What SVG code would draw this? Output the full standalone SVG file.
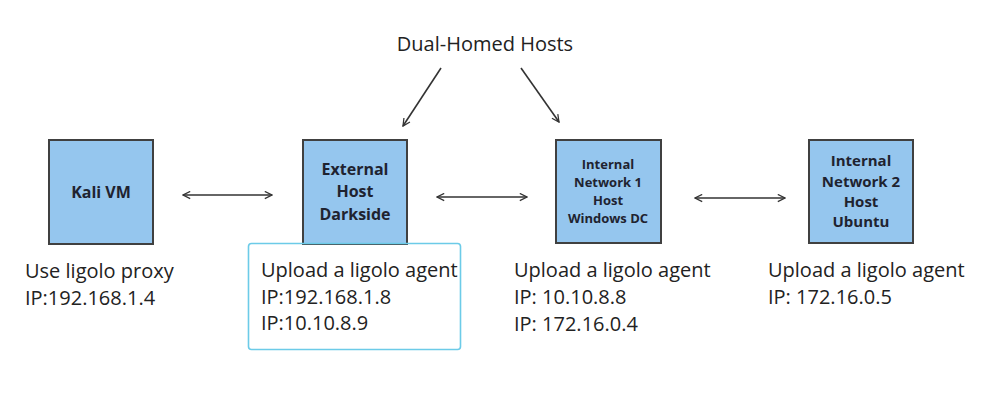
<svg xmlns="http://www.w3.org/2000/svg" width="1003" height="419" viewBox="0 0 1003 419">
<style>
.box{fill:#95c6ee;stroke:#404040;stroke-width:2}
.nt{font-family:"Open Sans","Noto Sans",sans-serif;font-weight:bold;fill:#1f2330;text-anchor:middle}
.lb{font-family:"Open Sans","Noto Sans",sans-serif;font-size:20px;fill:#222}
.cn{stroke:#333;stroke-width:1.6;fill:none}
</style>
<defs>
<marker id="ah" viewBox="0 0 10 10" refX="9" refY="5" markerWidth="9" markerHeight="9" orient="auto-start-reverse" markerUnits="userSpaceOnUse">
<path d="M1,1 L9,5 L1,9" fill="none" stroke="#333" stroke-width="1.4"/>
</marker>
</defs>
<rect width="1003" height="419" fill="#fff"/>
<text class="lb" x="485" y="51" text-anchor="middle">Dual-Homed Hosts</text>
<g id="connectors">
<line class="cn" x1="183" y1="195" x2="272" y2="195" marker-start="url(#ah)" marker-end="url(#ah)"/>
<line class="cn" x1="437" y1="197" x2="527" y2="197" marker-start="url(#ah)" marker-end="url(#ah)"/>
<line class="cn" x1="695" y1="198" x2="785" y2="198" marker-start="url(#ah)" marker-end="url(#ah)"/>
<line class="cn" x1="441" y1="68" x2="403" y2="126" marker-end="url(#ah)"/>
<line class="cn" x1="521" y1="68" x2="559" y2="122" marker-end="url(#ah)"/>
</g>
<g id="kali">
<rect class="box" x="49" y="140" width="104" height="104"/>
<text class="nt" x="101" y="198" font-size="16">Kali VM</text>
<text class="lb" x="25" y="278">Use ligolo proxy</text>
<text class="lb" x="25" y="305">IP:192.168.1.4</text>
</g>
<g id="external">
<rect class="box" x="303" y="140" width="104" height="104"/>
<text class="nt" x="355" y="175" font-size="16">External</text>
<text class="nt" x="355" y="197" font-size="16">Host</text>
<text class="nt" x="355" y="220" font-size="16">Darkside</text>
<rect x="248.5" y="243.5" width="212" height="106" rx="3" fill="none" stroke="#6ccbe8" stroke-width="1.6"/>
<text class="lb" x="261" y="277">Upload a ligolo agent</text>
<text class="lb" x="261" y="304">IP:192.168.1.8</text>
<text class="lb" x="261" y="330">IP:10.10.8.9</text>
</g>
<g id="internal1">
<rect class="box" x="556" y="140" width="105" height="103"/>
<text class="nt" x="608" y="169" font-size="13">Internal</text>
<text class="nt" x="608" y="187" font-size="13">Network 1</text>
<text class="nt" x="608" y="205" font-size="13">Host</text>
<text class="nt" x="608" y="223" font-size="13">Windows DC</text>
<text class="lb" x="514" y="277">Upload a ligolo agent</text>
<text class="lb" x="514" y="304">IP: 10.10.8.8</text>
<text class="lb" x="514" y="331">IP: 172.16.0.4</text>
</g>
<g id="internal2">
<rect class="box" x="809" y="140" width="104" height="103"/>
<text class="nt" x="861" y="166" font-size="15">Internal</text>
<text class="nt" x="861" y="187" font-size="15">Network 2</text>
<text class="nt" x="861" y="207" font-size="15">Host</text>
<text class="nt" x="861" y="227" font-size="15">Ubuntu</text>
<text class="lb" x="768" y="277">Upload a ligolo agent</text>
<text class="lb" x="768" y="304">IP: 172.16.0.5</text>
</g>
</svg>
